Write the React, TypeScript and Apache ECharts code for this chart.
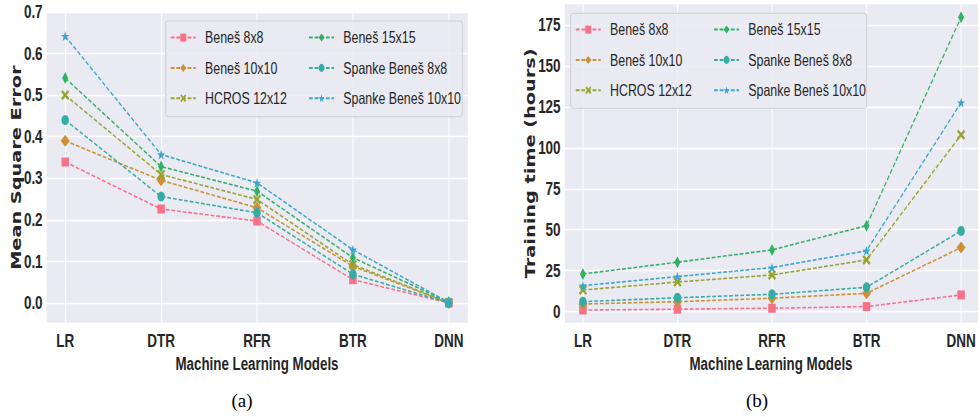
import React, { useEffect, useRef } from "react";
import * as echarts from "echarts";

const categories = ["LR", "DTR", "RFR", "BTR", "DNN"];
const seriesNames = [
  "Beneš 8x8",
  "Beneš 10x10",
  "HCROS 12x12",
  "Beneš 15x15",
  "Spanke Beneš 8x8",
  "Spanke Beneš 10x10",
];

// (a) Mean Square Error
const mseBenes8 = [0.339, 0.226, 0.197, 0.056, 0.0];
const mseBenes10 = [0.39, 0.295, 0.229, 0.088, 0.0];
const mseHcros12 = [0.5, 0.309, 0.249, 0.092, 0.001];
const mseBenes15 = [0.541, 0.328, 0.269, 0.109, 0.002];
const mseSpanke8 = [0.44, 0.256, 0.217, 0.069, 0.0];
const mseSpanke10 = [0.642, 0.357, 0.289, 0.128, 0.001];

// (b) Training time (hours)
const timeBenes8 = [1.0, 1.5, 2.1, 3.1, 10.2];
const timeBenes10 = [4.7, 6.1, 8.2, 11.2, 39.1];
const timeHcros12 = [13.2, 18.1, 22.4, 31.6, 107.9];
const timeBenes15 = [23.0, 30.2, 37.7, 52.5, 179.7];
const timeSpanke8 = [6.1, 8.5, 10.6, 14.9, 49.3];
const timeSpanke10 = [15.9, 21.4, 26.9, 37.2, 127.6];

const mseTickLabels = ["0.0", "0.1", "0.2", "0.3", "0.4", "0.5", "0.6", "0.7"];
const timeTickLabels = ["0", "25", "50", "75", "100", "125", "150", "175"];

const mseSeries = [mseBenes8, mseBenes10, mseHcros12, mseBenes15, mseSpanke8, mseSpanke10];
const timeSeries = [timeBenes8, timeBenes10, timeHcros12, timeBenes15, timeSpanke8, timeSpanke10];

const colors = ["#f77189", "#ce9032", "#97a431", "#32b166", "#36ada4", "#39a7d0"];
const STAR =
  "path://M50,0L61.8,35.3L99,35.3L69.1,57.1L80.9,92.7L50,70.8L19.1,92.7L30.9,57.1L1,35.3L38.2,35.3Z";
const XMARK =
  "path://M0,18L18,0L50,32L82,0L100,18L68,50L100,82L82,100L50,68L18,100L0,82L32,50Z";
const symbols = ["rect", "diamond", XMARK, "diamond", "circle", STAR];
const symbolSizes = [
  [10, 9],
  [12, 12],
  [11, 10],
  [8, 12],
  [10, 10],
  [11, 10],
];

// The reference figure is horizontally compressed; the chart is laid out
// in a wider box and squeezed by S with a CSS transform.
const S = 0.75;
const W = 980 / S;
const px = (x: number) => x / S;

const SANS = "'Liberation Sans', Arial, sans-serif";
const TEXT = "#262626";

function xLabel(v: number) {
  const k = Math.round(v);
  if (Math.abs(v - k) < 1e-6 && k >= 0 && k < categories.length) return categories[k];
  return "";
}

function makeYLabel(labels: string[], step: number) {
  return (v: number) => {
    const k = Math.round(v / step);
    if (Math.abs(v / step - k) < 1e-4 && k >= 0 && k < labels.length) return labels[k];
    return "";
  };
}

export default function App() {
  const ref = useRef<HTMLDivElement>(null);
  useEffect(() => {
    if (!ref.current) return;
    const chart = echarts.init(ref.current, null, { renderer: "svg" });

    const tickLabel = {
      fontFamily: SANS,
      fontWeight: "bold",
      fontSize: 18,
      color: TEXT,
    };

    const xAxisBase = (gridIndex: number, max: number) => ({
      type: "value",
      gridIndex,
      min: -0.2,
      max,
      minInterval: 1,
      maxInterval: 1,
      axisLine: { show: false },
      axisTick: { show: false },
      splitLine: { show: true, lineStyle: { color: "#ffffff", width: 1.3 } },
      axisLabel: { ...tickLabel, margin: 8, formatter: xLabel },
      name: "Machine Learning Models",
      nameLocation: "middle",
      nameGap: 31,
      nameMoveOverlap: false,
      nameTextStyle: { fontFamily: SANS, fontWeight: "bold", fontSize: 17.8, color: TEXT },
    });

    const series: any[] = [];
    [mseSeries, timeSeries].forEach((group, gi) => {
      group.forEach((vals, si) => {
        series.push({
          type: "line",
          name: seriesNames[si],
          xAxisIndex: gi,
          yAxisIndex: gi,
          data: vals.map((v, i) => [i, v]),
          symbol: symbols[si],
          symbolSize: symbolSizes[si],
          showAllSymbol: true,
          itemStyle: { color: colors[si] },
          lineStyle: { color: colors[si], width: 1.6, type: [5, 2.5] },
          z: 2 + si * 0.01,
        });
      });
    });

    const legendCommon = {
      orient: "vertical",
      itemWidth: px(25),
      itemHeight: 10,
      itemGap: 13.3,
      padding: 0,
      textStyle: { fontFamily: SANS, fontSize: 16.5, color: TEXT, padding: [0, 0, 0, 7.4] },
      z: 10,
    };

    const yName = { fontFamily: "DejaVu Sans", fontWeight: "bold", fontSize: 19.3, color: TEXT };

    const option: any = {
      animation: false,
      grid: [
        { left: px(46), top: 12, width: px(422), height: 311.3, show: true, backgroundColor: "#eaeaf2", borderWidth: 0 },
        { left: px(564), top: 3.3, width: px(416), height: 320, show: true, backgroundColor: "#eaeaf2", borderWidth: 0 },
      ],
      xAxis: [xAxisBase(0, 4.2), xAxisBase(1, 4.179)],
      yAxis: [
        {
          type: "value",
          gridIndex: 0,
          min: -0.049,
          max: 0.7,
          minInterval: 0.1,
          maxInterval: 0.1,
          axisLine: { show: false },
          axisTick: { show: false },
          splitLine: { show: true, lineStyle: { color: "#ffffff", width: 1.3 } },
          axisLabel: { ...tickLabel, margin: 4.5, formatter: makeYLabel(mseTickLabels, 0.1) },
          name: "Mean Square Error",
          nameLocation: "middle",
          nameGap: 30.4,
          nameMoveOverlap: false,
          nameTextStyle: yName,
        },
        {
          type: "value",
          gridIndex: 1,
          min: -7.1,
          max: 188.2,
          minInterval: 25,
          maxInterval: 25,
          axisLine: { show: false },
          axisTick: { show: false },
          splitLine: { show: true, lineStyle: { color: "#ffffff", width: 1.3 } },
          axisLabel: { ...tickLabel, margin: 4.5, formatter: makeYLabel(timeTickLabels, 25) },
          name: "Training time (hours)",
          nameLocation: "middle",
          nameGap: 36.5,
          nameMoveOverlap: false,
          nameTextStyle: yName,
        },
      ],
      legend: [
        { ...legendCommon, left: px(170), top: 29.1, data: seriesNames.slice(0, 3) },
        { ...legendCommon, left: px(308.3), top: 29.1, data: seriesNames.slice(3, 6) },
        { ...legendCommon, left: px(575), top: 21.1, data: seriesNames.slice(0, 3) },
        { ...legendCommon, left: px(713.3), top: 21.1, data: seriesNames.slice(3, 6) },
      ],
      graphic: [
        {
          type: "rect",
          z: 5,
          shape: { x: px(165.7), y: 21, width: px(296.6), height: 95.7, r: 3 },
          style: { fill: "rgba(234,234,242,0.8)", stroke: "#cccccc", lineWidth: 1 },
        },
        {
          type: "rect",
          z: 5,
          shape: { x: px(570.7), y: 13.3, width: px(296), height: 95, r: 3 },
          style: { fill: "rgba(234,234,242,0.8)", stroke: "#cccccc", lineWidth: 1 },
        },
        {
          type: "text",
          x: px(242),
          y: 400,
          scaleX: 1 / S,
          style: {
            text: "(a)",
            font: "19px 'Liberation Serif', serif",
            fill: "#000000",
            textAlign: "center",
            textVerticalAlign: "middle",
          },
        },
        {
          type: "text",
          x: px(757),
          y: 400,
          scaleX: 1 / S,
          style: {
            text: "(b)",
            font: "19px 'Liberation Serif', serif",
            fill: "#000000",
            textAlign: "center",
            textVerticalAlign: "middle",
          },
        },
      ],
      series,
    };

    chart.setOption(option);
    return () => chart.dispose();
  }, []);

  return (
    <div
      style={{
        position: "absolute",
        left: 0,
        top: 0,
        width: 980,
        height: 417,
        overflow: "hidden",
        background: "#ffffff",
      }}
    >
      <div
        ref={ref}
        style={{
          width: W,
          height: 417,
          transform: `scaleX(${S})`,
          transformOrigin: "0 0",
        }}
      />
    </div>
  );
}
